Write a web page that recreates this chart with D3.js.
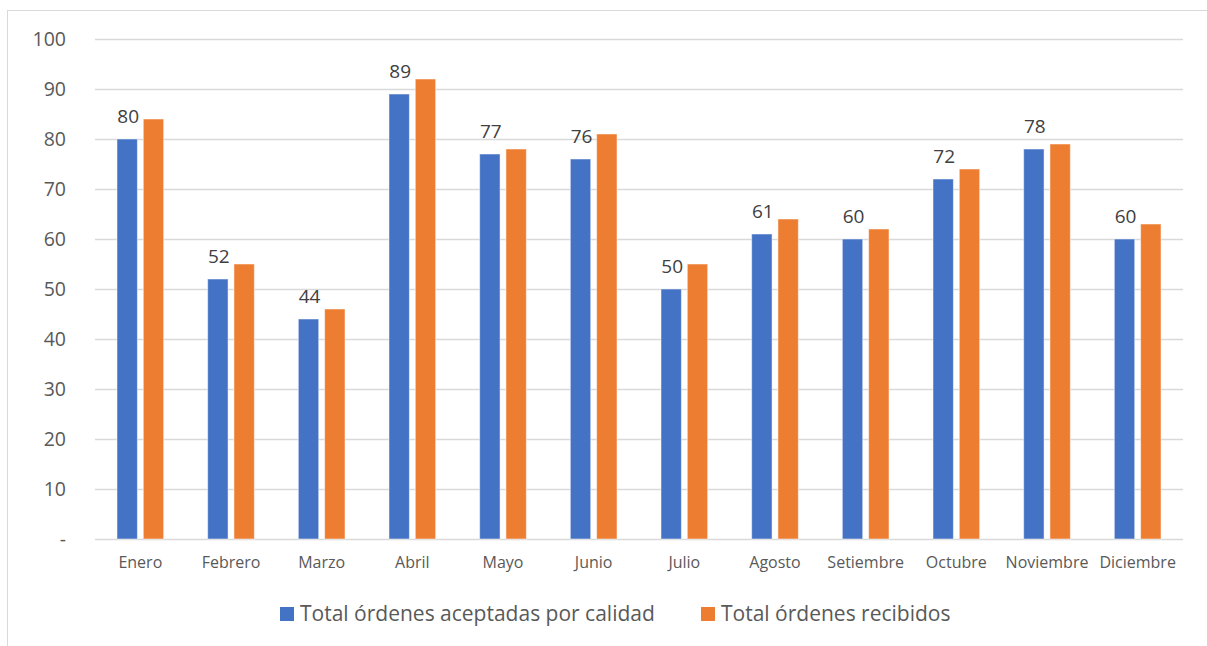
<!DOCTYPE html>
<html>
<head>
<meta charset="utf-8">
<script src="https://cdn.jsdelivr.net/npm/d3@7"></script>
<style>
  html, body { margin: 0; padding: 0; background: #fff; }
  svg { display: block; font-family: "Open Sans", Lato, sans-serif; }
</style>
</head>
<body>
<svg id="chart" width="1207" height="646"></svg>
<script>
const months = ["Enero", "Febrero", "Marzo", "Abril", "Mayo", "Junio", "Julio", "Agosto", "Setiembre", "Octubre", "Noviembre", "Diciembre"];
const aceptadas = [80, 52, 44, 89, 77, 76, 50, 61, 60, 72, 78, 60];
const recibidos = [84, 55, 46, 92, 78, 81, 55, 64, 62, 74, 79, 63];
const yTicks = [0, 10, 20, 30, 40, 50, 60, 70, 80, 90, 100];
const seriesNames = ["Total órdenes aceptadas por calidad", "Total órdenes recibidos"];
const seriesColors = ["#4472C4", "#ED7D31"];

const svg = d3.select("#chart");
const textColor = "#595959";
const fontStack = "'Open Sans', Lato, sans-serif";

// outer chart frame
svg.append("rect")
  .attr("x", 7.5).attr("y", 10.5)
  .attr("width", 1220).attr("height", 660)
  .attr("fill", "none").attr("stroke", "#d9d9d9").attr("stroke-width", 1);

const plotLeft = 95, plotRight = 1183, plotTop = 39, plotBottom = 539;

const x = d3.scaleBand().domain(months).range([plotLeft, plotRight]).paddingInner(0).paddingOuter(0);
const y = d3.scaleLinear().domain([0, 100]).range([plotBottom, plotTop]);

// gridlines
svg.append("g").selectAll("line").data(yTicks).join("line")
  .attr("x1", plotLeft).attr("x2", plotRight)
  .attr("y1", d => Math.round(y(d)) + 0.5).attr("y2", d => Math.round(y(d)) + 0.5)
  .attr("stroke", "#d9d9d9").attr("stroke-width", 1.3);

// y axis labels
const yAxis = d3.axisLeft(y).tickValues(yTicks).tickSize(0).tickPadding(0)
  .tickFormat(d => d === 0 ? "-" : d);
const gy = svg.append("g").attr("transform", `translate(${plotLeft - 29},0)`).call(yAxis);
gy.select(".domain").remove();
gy.selectAll("text").attr("fill", textColor).attr("font-size", 19.5)
  .attr("font-family", fontStack);

// x axis labels
const xAxis = d3.axisBottom(x).tickSize(0).tickPadding(0);
const gx = svg.append("g").attr("transform", `translate(0,${plotBottom + 18})`).call(xAxis);
gx.select(".domain").remove();
gx.selectAll("text").attr("fill", textColor).attr("font-size", 16)
  .attr("font-family", fontStack);

// bars
const bw = x.bandwidth();
const barW = bw * 0.225;
const gap = bw * 0.065;
const series = [aceptadas, recibidos];
series.forEach((vals, si) => {
  svg.append("g").selectAll("rect").data(months).join("rect")
    .attr("x", m => x(m) + bw / 2 + (si === 0 ? -gap / 2 - barW : gap / 2))
    .attr("y", (m, i) => y(vals[i]))
    .attr("width", barW)
    .attr("height", (m, i) => y(0) - y(vals[i]))
    .attr("fill", seriesColors[si])
    .attr("stroke", "#ffffff").attr("stroke-opacity", 0.5).attr("stroke-width", 1);
});

// value labels above the first series
svg.append("g").selectAll("text").data(months).join("text")
  .attr("x", m => x(m) + bw / 2 - gap / 2 - barW / 2 + 1)
  .attr("y", (m, i) => y(aceptadas[i]) - 16)
  .attr("text-anchor", "middle")
  .attr("fill", "#404040").attr("font-size", 19)
  .text((m, i) => aceptadas[i]);

// legend
const legend = svg.append("g");
const legendX = [280, 701];
seriesNames.forEach((name, i) => {
  const g = legend.append("g").attr("transform", `translate(${legendX[i]},0)`);
  g.append("rect").attr("x", 0).attr("y", 607).attr("width", 14).attr("height", 14).attr("fill", seriesColors[i]);
  g.append("text").attr("x", 20).attr("y", 621).attr("fill", textColor).attr("font-size", 21).text(name);
});
</script>
</body>
</html>
